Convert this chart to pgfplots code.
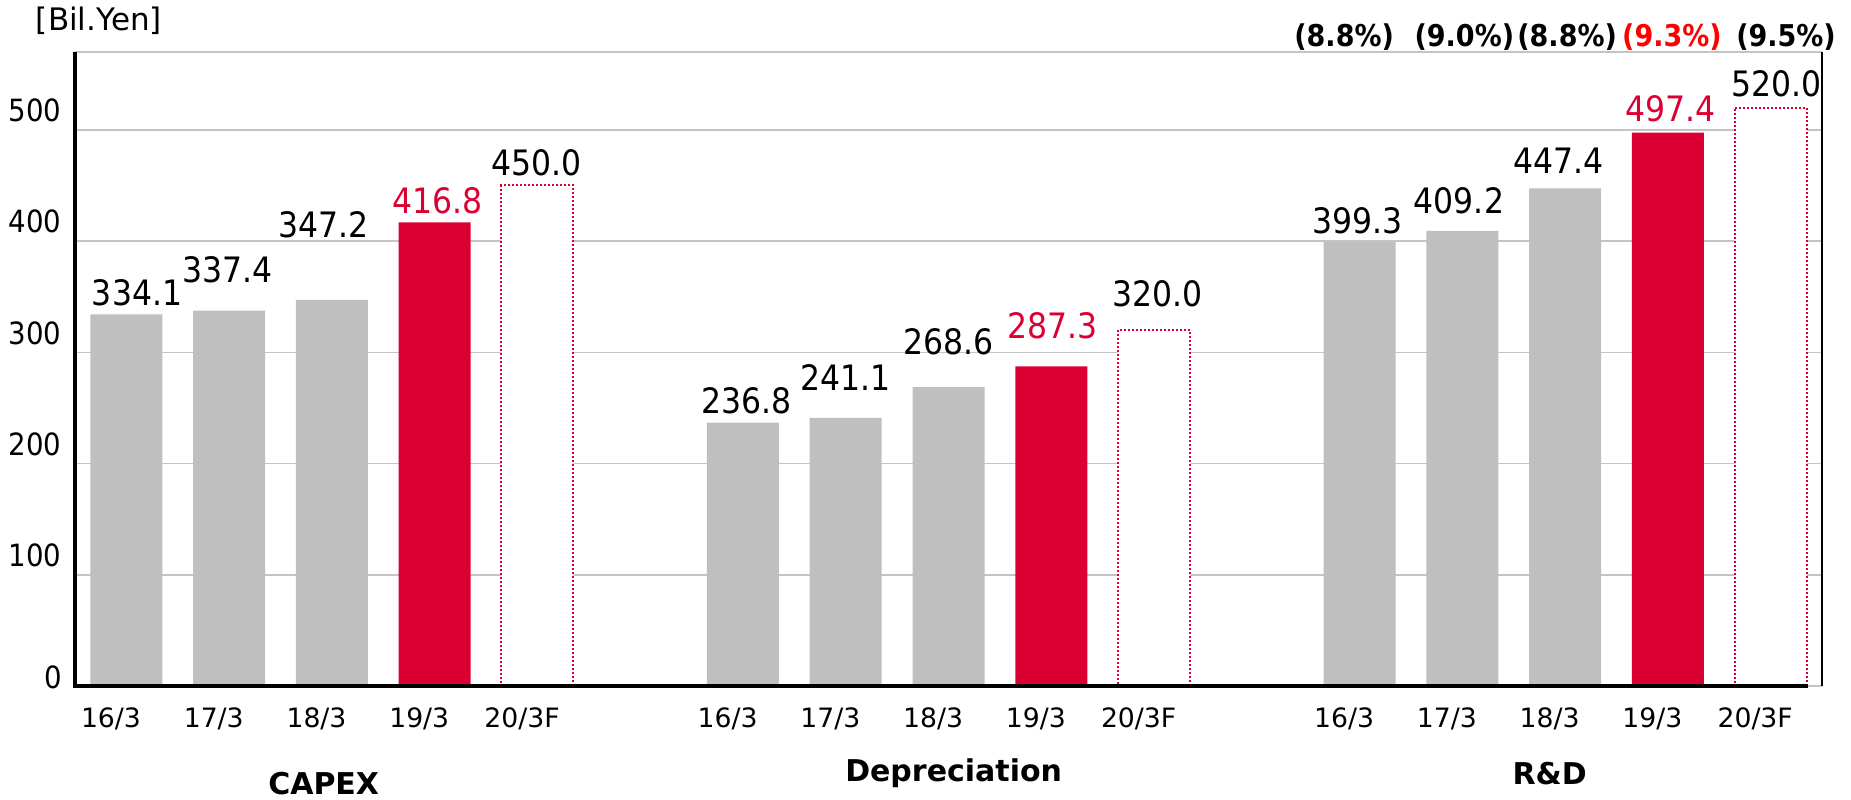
\documentclass[border=0pt]{standalone}
\usepackage{pgfplots}
\pgfplotsset{compat=1.18}
\usepackage{pgfplotstable}
\usepackage{fontspec}
\setmainfont{DejaVu Sans}
\newfontfamily\condfont{DejaVu Sans Condensed}

\definecolor{barGray}{RGB}{191,191,191}
\definecolor{barRed}{RGB}{220,0,50}
\definecolor{pctRed}{RGB}{255,0,0}
\definecolor{gridGray}{RGB}{196,196,196}

\newcommand{\fs}[1]{\fontsize{#1}{#1}\selectfont}

% x = slot, y = value, dx/dy = nudge of the value label (pt)
\pgfplotstableread{
x  y      dx    dy
0  334.1  3.2   0.0
1  337.4 -0.5   5.7
2  347.2 -2.4  16.0
6  236.8  1.2   0.0
7  241.1  0.0   5.7
8  268.6  0.0   7.0
12 399.3 -0.5  -0.3
13 409.2 -1.0   2.5
14 447.4 -2.0   2.0
}\pastdata
\pgfplotstableread{
x  y      dx    dy
3  416.8  0.8   0.0
9  287.3  0.5   5.7
15 497.4  0.7   0.7
}\latestdata
\pgfplotstableread{
x  y      dx    dy
4  450.0 -0.3   0.0
10 320.0  1.0   4.2
16 520.0  1.8   0.4
}\forecastdata

\begin{document}
\begin{tikzpicture}
\path[use as bounding box] (-22.5pt,-34.2pt) rectangle (532.8pt,205.8pt);
\begin{axis}[
  at={(0,0)}, anchor=south west,
  scale only axis,
  width=524.1pt, height=190.2pt,
  xmin=-0.5, xmax=16.5,
  ymin=0, ymax=570,
  clip=false,
  axis line style={draw=none},
  major tick length=0pt,
  ytick={100,200,300,400,500},
  extra y ticks={0},
  extra y tick style={yticklabel style={yshift=-3.2pt}},
  ymajorgrids,
  grid style={gridGray, line width=0.45pt},
  yticklabel style={font=\condfont\fs{9.2pt}, yshift=5.8pt, xshift=-0.5pt},
  xtick={-0.15,0.85,1.85,2.85,3.85, 5.85,6.85,7.85,8.85,9.85, 11.85,12.85,13.85,14.85,15.85},
  xticklabels={16/3,17/3,18/3,19/3,20/3F,16/3,17/3,18/3,19/3,20/3F,16/3,17/3,18/3,19/3,20/3F},
  xticklabel style={font=\fs{8pt}, anchor=center, yshift=-9.8pt},
  /pgf/number format/assume math mode=true,
  visualization depends on={\thisrow{dx} \as \labdx},
  visualization depends on={\thisrow{dy} \as \labdy},
  nodes near coords={\pgfmathprintnumber[fixed,fixed zerofill,precision=1]{\pgfplotspointmeta}},
  every node near coord/.append style={font=\condfont\fs{10.5pt}, inner sep=2.4pt,
    xshift=\labdx pt, yshift=\labdy pt},
]
% actual results, earlier years
\addplot[ybar, bar width=21.6pt, bar shift=0pt, fill=barGray, draw=none,
  every node near coord/.append style={text=black}]
  table[x=x, y=y] {\pastdata};
% actual results, latest year
\addplot[ybar, bar width=21.6pt, bar shift=0pt, fill=barRed, draw=none,
  every node near coord/.append style={text=barRed}]
  table[x=x, y=y] {\latestdata};
% forecast
\addplot[ybar, bar width=21.6pt, bar shift=0pt, fill=white, draw=barRed,
  line width=0.6pt, dash pattern=on 0.6pt off 0.6pt,
  every node near coord/.append style={text=black, solid}]
  table[x=x, y=y] {\forecastdata};

% frame
\draw[gridGray, line width=0.45pt] (rel axis cs:0,1) -- (rel axis cs:1,1);
\draw[black, line width=0.5pt] (rel axis cs:1,0) -- (rel axis cs:1,1);
\draw[black, line width=1.2pt] (axis cs:-0.5,570) -- (axis cs:-0.5,0) -- (axis cs:16.36,0);

% R&D ratio to revenue
\node[font=\condfont\bfseries\fs{9pt}] at (axis cs:11.85,583) {(8.8\%)};
\node[font=\condfont\bfseries\fs{9pt}] at (axis cs:13.02,583) {(9.0\%)};
\node[font=\condfont\bfseries\fs{9pt}] at (axis cs:14.02,583) {(8.8\%)};
\node[font=\condfont\bfseries\fs{9pt}, text=pctRed] at (axis cs:15.04,583) {(9.3\%)};
\node[font=\condfont\bfseries\fs{9pt}] at (axis cs:16.15,583) {(9.5\%)};

% group titles
\node[font=\bfseries\fs{9pt}] at (axis cs:1.92,0) [yshift=-29.4pt] {CAPEX};
\node[font=\bfseries\fs{9pt}] at (axis cs:8.05,0) [yshift=-26.1pt] {Depreciation};
\node[font=\bfseries\fs{9pt}] at (axis cs:13.85,0) [yshift=-26.4pt] {R\&D};

% unit
\node[font=\fs{9.3pt}] at (axis cs:-0.5,570) [xshift=7.2pt, yshift=9.3pt] {[Bil.Yen]};
\end{axis}
\end{tikzpicture}
\end{document}
